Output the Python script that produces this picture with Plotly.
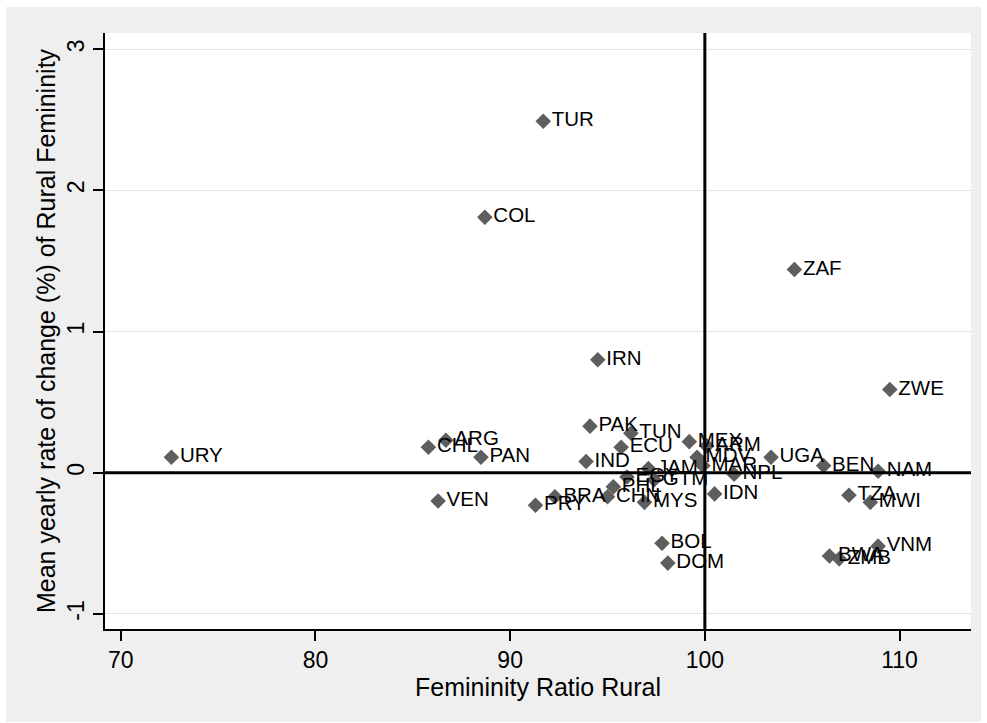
import plotly.graph_objects as go

countries = ["URY", "CHL", "ARG", "PAN", "VEN", "PRY", "BRA", "COL", "TUR", "IRN",
             "PAK", "TUN", "ECU", "IND", "CHN", "PHL", "EGY", "JAM", "GTM", "MYS",
             "MEX", "ARM", "MDV", "MAR", "NPL", "IDN", "UGA", "ZAF", "ZWE", "BEN",
             "NAM", "TZA", "MWI", "VNM", "BWA", "ZMB", "BOL", "DOM"]
fem_ratio = [72.6, 85.8, 86.7, 88.5, 86.3, 91.3, 92.3, 88.7, 91.7, 94.5,
             94.1, 96.2, 95.7, 93.9, 95.0, 95.3, 96.0, 97.1, 97.4, 96.9,
             99.2, 100.1, 99.6, 99.9, 101.5, 100.5, 103.4, 104.6, 109.5, 106.1,
             108.9, 107.4, 108.5, 108.9, 106.4, 106.9, 97.8, 98.1]
change_rate = [0.11, 0.18, 0.23, 0.11, -0.20, -0.23, -0.17, 1.81, 2.49, 0.80,
               0.33, 0.28, 0.18, 0.08, -0.17, -0.10, -0.03, 0.03, -0.05, -0.21,
               0.22, 0.19, 0.11, 0.05, -0.01, -0.15, 0.11, 1.44, 0.59, 0.05,
               0.01, -0.16, -0.21, -0.52, -0.59, -0.61, -0.50, -0.64]
x_ticks = [70, 80, 90, 100, 110]
y_ticks = [-1, 0, 1, 2, 3]
y_tick_labels = ["-1", "0", "1", "2", "3"]

FONT = "Liberation Sans, Arial, sans-serif"
GRAY_BG = "#efefef"

fig = go.Figure()
fig.add_trace(go.Scatter(
    x=fem_ratio, y=change_rate, mode="markers+text",
    text=countries, textposition="middle right",
    textfont=dict(family=FONT, size=20.5, color="black"),
    marker=dict(symbol="diamond", size=12, color="#5e5e5e"),
    cliponaxis=False, showlegend=False, hoverinfo="skip",
))

# reference lines
fig.add_shape(type="line", xref="x", yref="paper", x0=100, x1=100, y0=0, y1=1,
              line=dict(color="black", width=3), layer="above")
fig.add_shape(type="line", xref="paper", yref="y", x0=0, x1=1, y0=0, y1=0,
              line=dict(color="black", width=3), layer="above")

# white outer border strips
for (a, b, c, d) in [(-0.2, 1.2, 1.0436, 1.2), (-0.2, 1.2, -0.3, -0.156),
                     (-0.2, -0.1143, -0.3, 1.2), (1.0115, 1.2, -0.3, 1.2)]:
    fig.add_shape(type="rect", xref="paper", yref="paper", x0=a, x1=b, y0=c, y1=d,
                  fillcolor="white", line=dict(width=0), layer="above")

fig.update_layout(
    width=987, height=723,
    margin=dict(l=105, r=16, t=33, b=94),
    paper_bgcolor=GRAY_BG, plot_bgcolor="white",
    font=dict(family=FONT, color="black"),
    xaxis=dict(range=[69.19, 113.67], tickvals=x_ticks, ticks="outside", ticklen=10,
               tickwidth=1.5, tickcolor="black", showgrid=False, zeroline=False,
               showline=True, linecolor="black", linewidth=1.5,
               tickfont=dict(size=23),
               title=dict(text="Femininity Ratio Rural", font=dict(size=25), standoff=0)),
    yaxis=dict(range=[-1.107, 3.115], tickvals=y_ticks, ticktext=y_tick_labels,
               ticks="outside", ticklen=10,
               tickwidth=1.5, tickcolor="black", showgrid=True, gridcolor="#e3e3e3",
               gridwidth=1, zeroline=False, showline=True, linecolor="black",
               linewidth=1.5, tickangle=-90, tickfont=dict(size=23),
               title=dict(text="Mean yearly rate of change (%) of Rural Femininity",
                          font=dict(size=25), standoff=0)),
)

fig.write_html("out.html")
